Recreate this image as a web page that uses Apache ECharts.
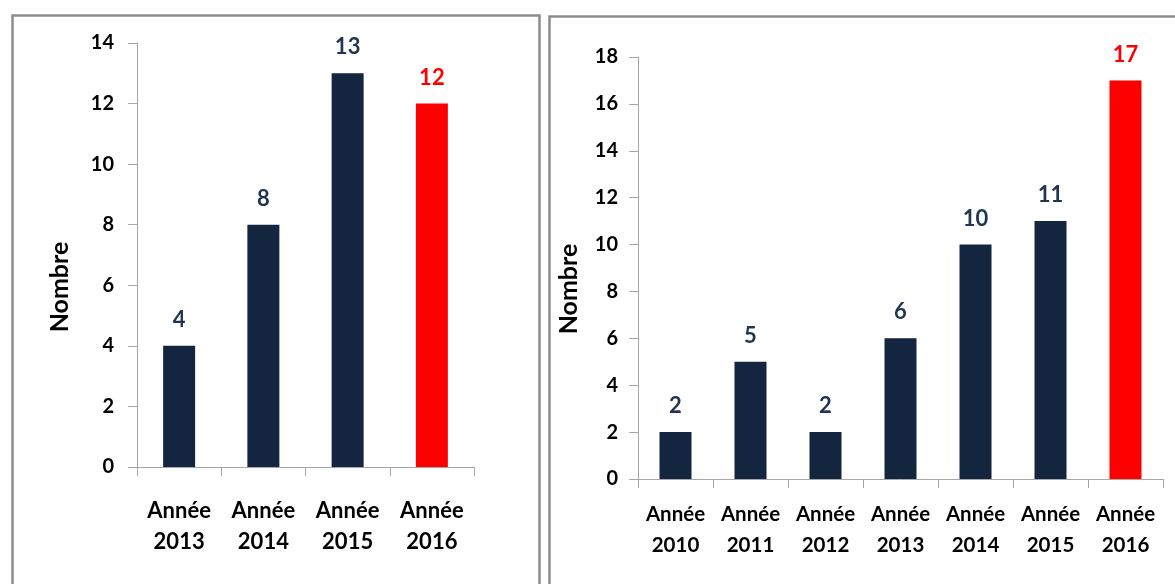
<!DOCTYPE html>
<html lang="fr" style="height: 100%">
<head>
  <meta charset="UTF-8">
  <title>Nombre par année</title>
</head>
<body style="height: 100%; margin: 0; background: #fff">
<div id="container" style="width: 1175px; height: 584px"></div>
<script type="text/javascript" src="https://cdn.jsdelivr.net/npm/echarts@6/dist/echarts.min.js"></script>
<script type="text/javascript">
  // left panel
  var leftCategories = ['Année\n2013', 'Année\n2014', 'Année\n2015', 'Année\n2016'];
  var leftValues = [4, 8, 13, 12];
  var leftTicks = { min: 0, max: 14, interval: 2 };

  // right panel
  var rightCategories = ['Année\n2010', 'Année\n2011', 'Année\n2012', 'Année\n2013', 'Année\n2014', 'Année\n2015', 'Année\n2016'];
  var rightValues = [2, 5, 2, 6, 10, 11, 17];
  var rightTicks = { min: 0, max: 18, interval: 2 };

  var yName = 'Nombre';

  var NAVY = '#13253f';
  var LABEL_NAVY = '#1f3550';
  var RED = '#ff0000';
  var FONT = 'Lato';

  var dom = document.getElementById('container');
  var myChart = echarts.init(dom, null, { renderer: 'canvas' });

  // last bar is highlighted in red
  function barData(values) {
    return values.map(function (v, i) {
      var last = i === values.length - 1;
      return {
        value: v,
        itemStyle: { color: last ? RED : NAVY },
        label: { color: last ? RED : LABEL_NAVY }
      };
    });
  }

  function xAxis(gridIndex, cats, margin, size) {
    return {
      type: 'category',
      gridIndex: gridIndex,
      data: cats,
      axisLine: { lineStyle: { color: '#a6a6a6', width: 1 } },
      axisTick: { show: true, length: 9, lineStyle: { color: '#a6a6a6' } },
      axisLabel: {
        interval: 0,
        hideOverlap: false,
        margin: margin,
        color: '#000',
        fontFamily: FONT,
        fontWeight: 'bold',
        fontSize: size,
        lineHeight: 31
      }
    };
  }

  function yAxis(gridIndex, ticks, margin) {
    return {
      type: 'value',
      gridIndex: gridIndex,
      min: ticks.min,
      max: ticks.max,
      interval: ticks.interval,
      splitLine: { show: false },
      axisLine: { show: true, lineStyle: { color: '#a6a6a6', width: 1 } },
      axisTick: { show: true, length: 9, lineStyle: { color: '#a6a6a6' } },
      axisLabel: {
        margin: margin,
        color: '#000',
        fontFamily: FONT,
        fontWeight: 'bold',
        fontSize: 20
      }
    };
  }

  function barSeries(axisIndex, values) {
    return {
      type: 'bar',
      xAxisIndex: axisIndex,
      yAxisIndex: axisIndex,
      barWidth: 32,
      animation: false,
      label: {
        show: true,
        position: 'top',
        distance: 15,
        fontFamily: FONT,
        fontWeight: 'bold',
        fontSize: 22
      },
      data: barData(values)
    };
  }

  var option = {
    animation: false,
    grid: [
      { left: 137, top: 43, width: 337, height: 424 },
      { left: 638, top: 57, width: 525, height: 422 }
    ],
    xAxis: [
      xAxis(0, leftCategories, 28, 22),
      xAxis(1, rightCategories, 20, 20.5)
    ],
    yAxis: [
      yAxis(0, leftTicks, 23),
      yAxis(1, rightTicks, 20)
    ],
    series: [
      barSeries(0, leftValues),
      barSeries(1, rightValues)
    ],
    graphic: [
      // panel frames
      {
        type: 'rect', left: 10, top: 13, z: -1,
        shape: { width: 527, height: 600 },
        style: { fill: null, stroke: '#8c8c8c', lineWidth: 2.5 }
      },
      {
        type: 'rect', left: 547, top: 14, z: -1,
        shape: { width: 700, height: 600 },
        style: { fill: null, stroke: '#8c8c8c', lineWidth: 2.5 }
      },
      // axis titles
      {
        type: 'text', x: 60, y: 287, rotation: Math.PI / 2,
        style: {
          text: yName, fill: '#000', font: 'bold 25px ' + FONT,
          textAlign: 'center', textVerticalAlign: 'middle'
        }
      },
      {
        type: 'text', x: 569, y: 289, rotation: Math.PI / 2,
        style: {
          text: yName, fill: '#000', font: 'bold 25px ' + FONT,
          textAlign: 'center', textVerticalAlign: 'middle'
        }
      }
    ]
  };

  myChart.setOption(option);
  window.addEventListener('resize', myChart.resize);
</script>
</body>
</html>
